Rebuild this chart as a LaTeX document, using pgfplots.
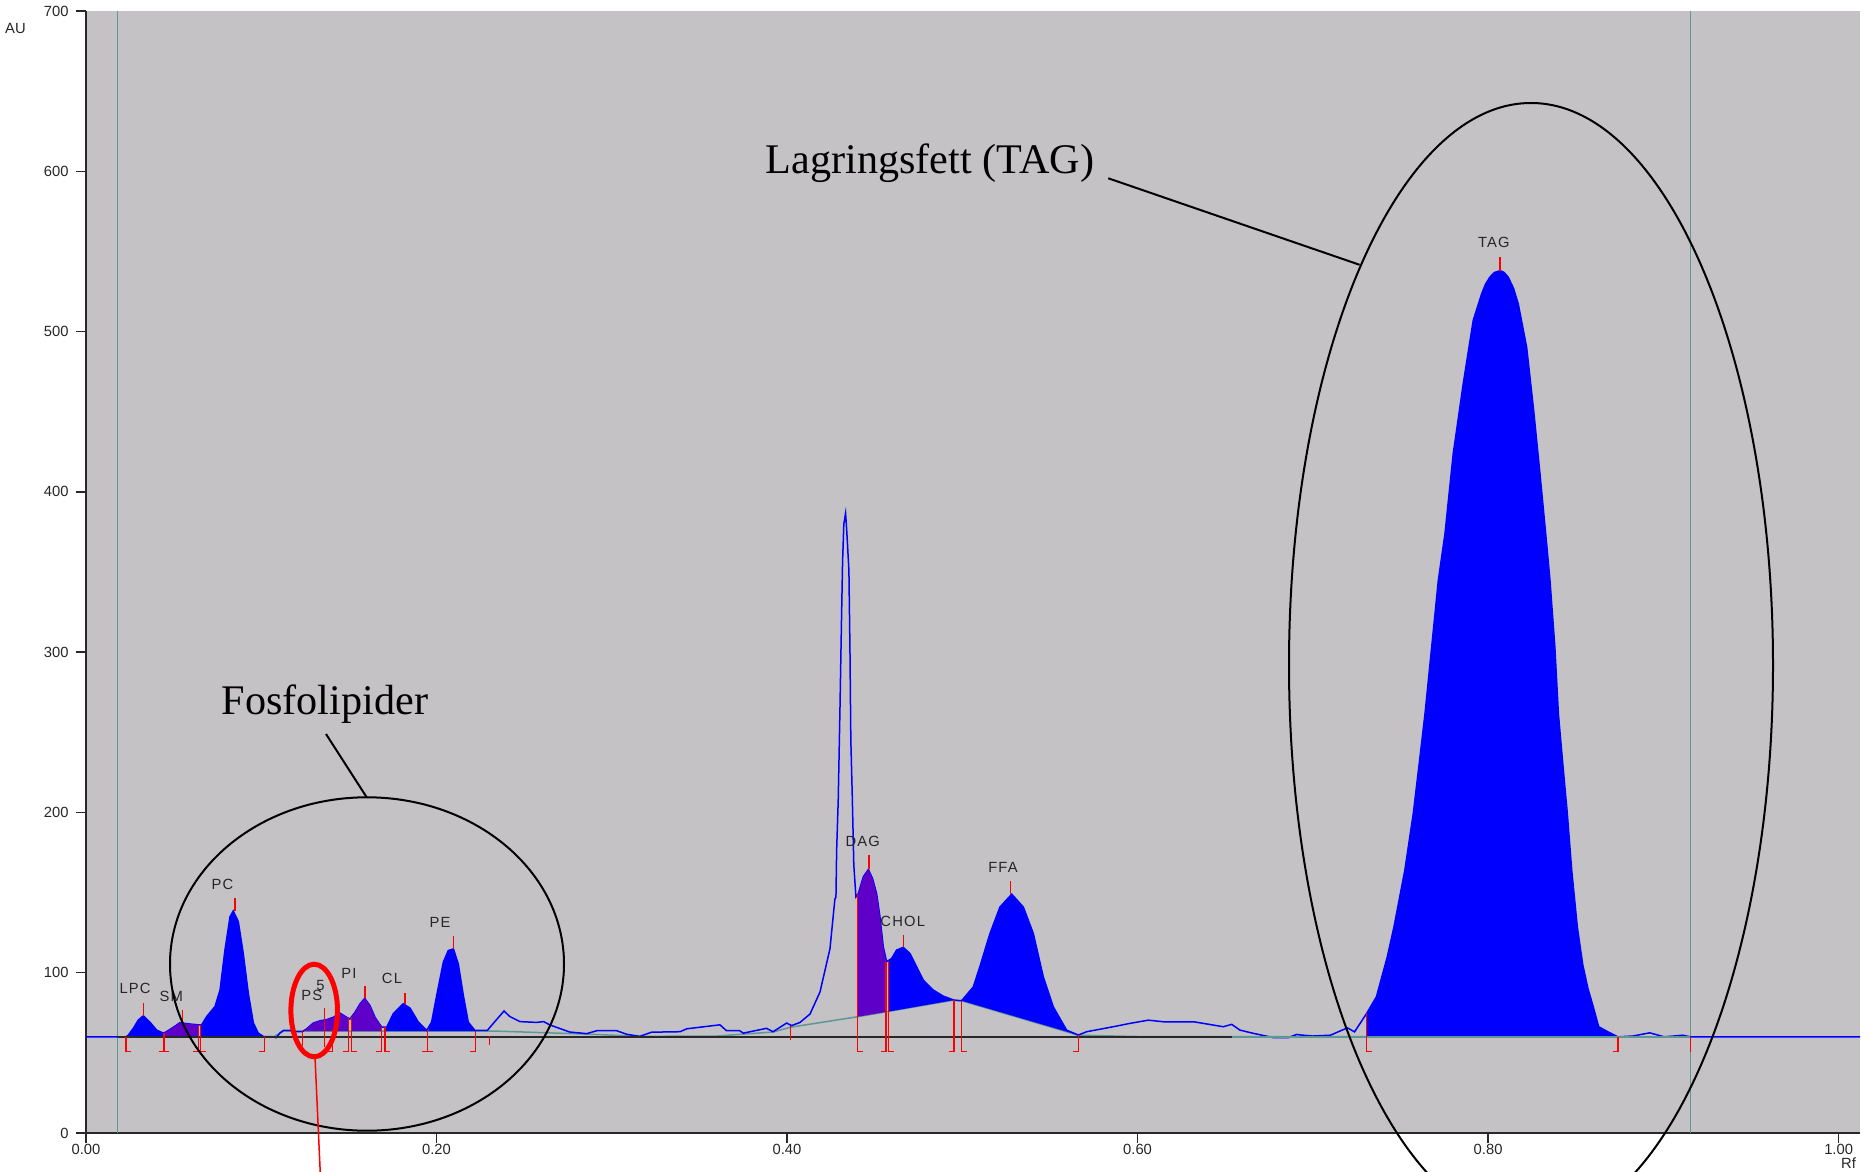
\documentclass[border=0pt]{standalone}
\usepackage{fontspec}
\setmainfont{Liberation Sans}
\newfontfamily\annfont{Liberation Serif}
\newfontfamily\lblfont[LetterSpace=8]{Liberation Sans}
\usepackage{pgfplots}
\pgfplotsset{compat=1.18}

\definecolor{bggray}{RGB}{196,194,197}
\definecolor{trace}{RGB}{0,0,255}
\definecolor{purp}{RGB}{95,0,200}
\definecolor{tealln}{RGB}{95,150,150}
\definecolor{axln}{RGB}{40,40,40}

% peak label
\newcommand{\pk}[3]{\node[font=\lblfont\fontsize{4.2}{5}\selectfont, text=black!85, inner sep=0pt] at (axis cs:#1,#2) {#3};}

\begin{document}
\begin{tikzpicture}
\begin{axis}[
    at={(0,0)}, anchor=south west,
    scale only axis, width=177.4mm, height=112.2mm,
    xmin=0, xmax=1.0122, ymin=0, ymax=700,
    axis lines=left,
    axis line style={axln, line width=0.2mm, -},
    axis background/.style={fill=bggray},
    xtick={0,0.2,0.4,0.6,0.8,1.0},
    ytick={0,100,200,300,400,500,600,700},
    tick align=outside, major tick length=1.0mm,
    tick style={axln, line width=0.15mm},
    xticklabel style={/pgf/number format/fixed, /pgf/number format/fixed zerofill,
        /pgf/number format/precision=2, yshift=1.1mm},
    yticklabel style={xshift=0.5mm},
    /pgf/number format/assume math mode=true,
    tick label style={font=\fontsize{4.2}{5}\selectfont, text=black!85},
    clip=false,
    unbounded coords=jump,
]
% vertical teal lines
\addplot[tealln, line width=0.15mm] coordinates {(0.018,0) (0.018,700)};
\addplot[tealln, line width=0.15mm] coordinates {(0.9154,0) (0.9154,700)};

% integration baselines
\addplot[tealln, line width=0.15mm] coordinates {
 (0.107,60) (0.1126,63.5) (0.236,63.5) (0.2857,61.7) (0.316,60.3) (0.36,60.5)
 (0.392,63) (0.402,66) (0.4401,72.5) (0.4952,82.9) (0.4996,82.5) (0.5662,61)
 (0.6,60.2) (0.9154,60)};

% densitometer trace
\addplot[trace, line width=0.15mm] coordinates {
 (0,60) (0.0228,60) (0.0241,61) (0.027,65.3) (0.0298,70.4) (0.0327,73.1) (0.0365,69.1)
 (0.0403,64.2) (0.0441,62.3) (0.0451,62.7) (0.0489,65.3) (0.0536,68.8) (0.0593,68)
 (0.0641,67.5) (0.066,67.5) (0.0689,72.7) (0.0736,78.9) (0.0765,89.3) (0.0793,114.3)
 (0.0822,135) (0.084,138.5) (0.0869,131.9) (0.0897,112.2) (0.0926,87.2) (0.0955,68.6)
 (0.0983,62.3) (0.1012,60.2) (0.1057,60.2) (0.1085,59.5) (0.1107,62.4) (0.1126,64)
 (0.1164,64) (0.1202,63.2) (0.1234,63.2) (0.1259,65) (0.1297,68.6) (0.1335,70)
 (0.1373,70.7) (0.1411,72.2) (0.1449,74.8) (0.1487,72.2) (0.1506,71.1) (0.1535,75.3)
 (0.1563,80.5) (0.159,84) (0.162,79.5) (0.1649,72.2) (0.1687,66) (0.1716,66)
 (0.1753,74.4) (0.181,80.6) (0.1849,77.9) (0.1896,69.2) (0.1944,64) (0.1972,69.2)
 (0.2001,85.8) (0.2039,106.6) (0.2067,113.8) (0.2096,114.9) (0.2124,105.6) (0.2153,85.8)
 (0.2181,69.2) (0.2219,64) (0.2248,64) (0.229,64) (0.2324,68.4) (0.2385,76.1)
 (0.2419,72.6) (0.2476,69.5) (0.2571,69) (0.2611,69.5) (0.2647,67.4) (0.276,63)
 (0.2857,62) (0.2914,63.8) (0.3028,63.8) (0.3085,61.6) (0.316,60.3) (0.3227,62.9)
 (0.339,63.2) (0.3427,65) (0.3617,67.5) (0.3655,63.8) (0.373,63.8) (0.375,62.3)
 (0.3883,65.3) (0.392,63.2) (0.3998,68.6) (0.4026,67) (0.4074,69) (0.4131,74.2)
 (0.4188,88) (0.4245,115) (0.4273,146) (0.4279,147) (0.4283,176.4) (0.4292,207.6)
 (0.4302,265) (0.4311,322) (0.4317,357) (0.4324,380) (0.4334,386.7) (0.4341,375)
 (0.4353,351) (0.4359,301) (0.4364,245) (0.4372,210.7) (0.4381,167) (0.4393,147.3)
 (0.4407,149.4) (0.4435,159.8) (0.4464,164.4) (0.4488,158.7) (0.4511,149.4) (0.453,134.9)
 (0.4549,116.2) (0.4568,106.8) (0.4597,108.9) (0.4625,114.1) (0.4663,115.8) (0.4701,112)
 (0.4739,103.7) (0.4777,95.4) (0.4834,89.2) (0.4891,85.4) (0.4952,82.9) (0.4996,82.5)
 (0.5063,91.2) (0.51,103.7) (0.5158,124.5) (0.5215,141) (0.5282,149) (0.5348,141)
 (0.5405,124.5) (0.5462,97.4) (0.5519,78.7) (0.5595,64.2) (0.5662,61.1) (0.571,63.2)
 (0.5861,66.3) (0.5957,68.4) (0.6061,70.4) (0.6147,69.4) (0.632,69.4) (0.6489,66.3)
 (0.6537,67.8) (0.6584,64.2) (0.666,62.2) (0.6774,59.5) (0.686,59.5) (0.6908,61.5)
 (0.6926,61.2) (0.70,60.5) (0.71,61) (0.7197,65.6) (0.7238,63.1) (0.7307,74.6)
 (0.7363,85) (0.7425,110) (0.7463,128.6) (0.7525,164) (0.7573,199.3) (0.7607,230.5)
 (0.764,261.6) (0.7678,303) (0.7716,344.8) (0.7754,373.9) (0.7801,423.8) (0.7858,467.4)
 (0.7915,506.9) (0.7963,523.5) (0.7985,529.5) (0.801,533.9) (0.8035,536.8) (0.8068,538)
 (0.809,537) (0.8115,533.9) (0.8145,527) (0.8172,517.3) (0.822,490.2) (0.8258,452.8)
 (0.8296,411.3) (0.8334,367.6) (0.8353,344.8) (0.8381,303) (0.8401,261.6) (0.8426,230.5)
 (0.8452,199.3) (0.8477,164) (0.8509,128.6) (0.854,105) (0.857,90) (0.86,78.7)
 (0.8631,66.3) (0.8694,62.5) (0.8741,60) (0.8826,60.5) (0.8922,62.5) (0.9005,60)
 (0.911,61) (0.9154,60) (1.0122,60)};

% integrated peak areas
\addplot[fill=trace, draw=none] coordinates {(0.0228,60) (0.0241,61) (0.027,65.3) (0.0298,70.4) (0.0327,73.1) (0.0365,69.1) (0.0403,64.2) (0.0441,62.3) (0.0445,60)};
\addplot[fill=purp, draw=none] coordinates {(0.0445,60) (0.0445,62.5) (0.0451,62.7) (0.0489,65.3) (0.0536,68.8) (0.0593,68) (0.0641,67.5) (0.0641,60)};
\addplot[fill=trace, draw=none] coordinates {(0.0654,60) (0.0654,67.5) (0.066,67.5) (0.0689,72.7) (0.0736,78.9) (0.0765,89.3) (0.0793,114.3) (0.0822,135) (0.084,138.5) (0.0869,131.9) (0.0897,112.2) (0.0926,87.2) (0.0955,68.6) (0.0983,62.3) (0.1012,60.2) (0.1017,60)};
\addplot[fill=purp, draw=none] coordinates {(0.1241,63.5) (0.1241,64) (0.1259,65) (0.1297,68.6) (0.1335,70) (0.1373,70.7) (0.1411,72.2) (0.1449,74.8) (0.1487,72.2) (0.1497,71.8) (0.1497,63.5)};
\addplot[fill=purp, draw=none] coordinates {(0.1516,63.5) (0.1516,72.5) (0.1535,75.3) (0.1563,80.5) (0.159,84) (0.162,79.5) (0.1649,72.2) (0.1687,66) (0.1687,63.5)};
\addplot[fill=trace, draw=none] coordinates {(0.1706,63.5) (0.1706,66) (0.1716,66) (0.1753,74.4) (0.181,80.6) (0.1849,77.9) (0.1896,69.2) (0.1944,64) (0.1944,63.5)};
\addplot[fill=trace, draw=none] coordinates {(0.1953,63.5) (0.1953,65.5) (0.1972,69.2) (0.2001,85.8) (0.2039,106.6) (0.2067,113.8) (0.2096,114.9) (0.2124,105.6) (0.2153,85.8) (0.2181,69.2) (0.2219,64) (0.2223,63.5)};
\addplot[fill=purp, draw=none] coordinates {(0.4401,72.5) (0.4401,149) (0.4407,149.4) (0.4435,159.8) (0.4464,164.4) (0.4488,158.7) (0.4511,149.4) (0.453,134.9) (0.4549,116.2) (0.4564,107) (0.4564,75.5)};
\addplot[fill=trace, draw=none] coordinates {(0.4578,75.7) (0.4578,107.5) (0.4597,108.9) (0.4625,114.1) (0.4663,115.8) (0.4701,112) (0.4739,103.7) (0.4777,95.4) (0.4834,89.2) (0.4891,85.4) (0.4952,82.9)};
\addplot[fill=trace, draw=none] coordinates {(0.4996,82.5) (0.5063,91.2) (0.51,103.7) (0.5158,124.5) (0.5215,141) (0.5282,149) (0.5348,141) (0.5405,124.5) (0.5462,97.4) (0.5519,78.7) (0.5595,64.2) (0.5662,61.1)};
\addplot[fill=trace, draw=none] coordinates {(0.7307,60) (0.7307,74.6) (0.7363,85) (0.7425,110) (0.7463,128.6) (0.7525,164) (0.7573,199.3) (0.7607,230.5) (0.764,261.6) (0.7678,303) (0.7716,344.8) (0.7754,373.9) (0.7801,423.8) (0.7858,467.4) (0.7915,506.9) (0.7963,523.5) (0.7985,529.5) (0.801,533.9) (0.8035,536.8) (0.8068,538) (0.809,537) (0.8115,533.9) (0.8145,527) (0.8172,517.3) (0.822,490.2) (0.8258,452.8) (0.8296,411.3) (0.8334,367.6) (0.8353,344.8) (0.8381,303) (0.8401,261.6) (0.8426,230.5) (0.8452,199.3) (0.8477,164) (0.8509,128.6) (0.854,105) (0.857,90) (0.86,78.7) (0.8631,66.3) (0.8694,62.5) (0.8741,60)};

% detector baseline
\addplot[axln, line width=0.15mm] coordinates {(0.018,60) (0.6537,60)};
\addplot[tealln, line width=0.15mm] coordinates {(0.6537,60) (0.9154,60)};

% peak start/end brackets and peak markers
\addplot[red, line width=0.13mm] coordinates {
 (0.0228,60) (0.0228,50.7) (0.0258,50.7) (nan,nan)
 (0.0415,50.7) (0.0475,50.7) (nan,nan) (0.0445,62.5) (0.0445,50.7) (nan,nan)
 (0.0641,67.5) (0.0641,50.7) (0.0611,50.7) (nan,nan)
 (0.0654,67.5) (0.0654,50.7) (0.0684,50.7) (nan,nan)
 (0.1017,60) (0.1017,50.7) (0.0987,50.7) (nan,nan)
 (0.1234,63.5) (0.1234,54.5) (nan,nan)
 (0.136,78) (0.136,53.8) (nan,nan)
 (0.1405,64) (0.1405,50.7) (0.1375,50.7) (nan,nan)
 (0.1497,71.8) (0.1497,50.7) (0.1467,50.7) (nan,nan)
 (0.1516,72.5) (0.1516,50.7) (0.1546,50.7) (nan,nan)
 (0.1687,66) (0.1687,50.7) (0.1657,50.7) (nan,nan)
 (0.1706,66) (0.1706,50.7) (0.1736,50.7) (nan,nan)
 (0.1918,50.7) (0.1978,50.7) (nan,nan) (0.1948,64) (0.1948,50.7) (nan,nan)
 (0.2223,63.5) (0.2223,50.7) (0.2193,50.7) (nan,nan)
 (0.2301,60.8) (0.2301,55) (nan,nan)
 (0.402,66.7) (0.402,58) (nan,nan)
 (0.4401,149) (0.4401,50.7) (0.4431,50.7) (nan,nan)
 (0.4564,107) (0.4564,50.7) (0.4534,50.7) (nan,nan)
 (0.4578,107.5) (0.4578,50.7) (0.4608,50.7) (nan,nan)
 (0.4952,82.9) (0.4952,50.7) (0.4922,50.7) (nan,nan)
 (0.4996,82.5) (0.4996,50.7) (0.5026,50.7) (nan,nan)
 (0.5662,61) (0.5662,50.7) (0.5632,50.7) (nan,nan)
 (0.7307,74.6) (0.7307,50.7) (0.7337,50.7) (nan,nan)
 (0.8741,60) (0.8741,50.7) (0.8711,50.7) (nan,nan)
 (0.9154,60) (0.9154,50.7) (nan,nan)
 (0.0327,73.1) (0.0327,81.2) (nan,nan)
 (0.0552,68.8) (0.0552,76.7) (nan,nan)
 (0.085,138.4) (0.085,146.5) (nan,nan)
 (0.1592,84) (0.1592,91.6) (nan,nan)
 (0.182,80.6) (0.182,87.5) (nan,nan)
 (0.2096,114.9) (0.2096,122.8) (nan,nan)
 (0.4467,164.4) (0.4467,173.3) (nan,nan)
 (0.4663,115.8) (0.4663,123.4) (nan,nan)
 (0.5276,149) (0.5276,157.3) (nan,nan)
 (0.8068,538) (0.8068,546.8)};

\pk{0.028}{90}{LPC}
\pk{0.0487}{85}{SM}
\pk{0.0779}{155}{PC}
\pk{0.1288}{86}{PS}
\pk{0.1338}{92}{5}
\pk{0.150}{99.6}{PI}
\pk{0.1746}{96.4}{CL}
\pk{0.202}{131.5}{PE}
\pk{0.4432}{182}{DAG}
\pk{0.466}{132.3}{CHOL}
\pk{0.5232}{165.8}{FFA}
\pk{0.8033}{555.5}{TAG}
\end{axis}

% axis names
\node[font=\fontsize{4.2}{5}\selectfont, text=black!85, inner sep=0pt] at (-7.05mm,110.5mm) {AU};
\node[font=\fontsize{4.2}{5}\selectfont, text=black!85, inner sep=0pt] at (176.25mm,-3.05mm) {Rf};

% annotations
\draw[line width=0.2mm] (144.5mm,46.8mm) ellipse [x radius=24.2mm, y radius=56.2mm];
\draw[line width=0.2mm] (28.1mm,16.9mm) ellipse [x radius=19.7mm, y radius=16.67mm];
\draw[red, line width=0.5mm] (22.82mm,12.25mm) ellipse [x radius=2.33mm, y radius=4.63mm];
\draw[red, line width=0.15mm] (22.9mm,7.6mm) -- (23.45mm,-4.5mm);
\draw[line width=0.2mm] (102.23mm,95.47mm) -- (127.36mm,86.82mm);
\draw[line width=0.2mm] (24.0mm,39.9mm) -- (28.07mm,33.57mm);
\node[font=\annfont\fontsize{12}{14}\selectfont, anchor=base, inner sep=0pt] at (84.4mm,95.9mm) {Lagringsfett (TAG)};
\node[font=\annfont\fontsize{12}{14}\selectfont, anchor=base, inner sep=0pt] at (23.9mm,41.9mm) {Fosfolipider};

\pgfresetboundingbox
\useasboundingbox (-8.6mm,-3.8mm) rectangle (178.4mm,113.3mm);
\end{tikzpicture}
\end{document}
